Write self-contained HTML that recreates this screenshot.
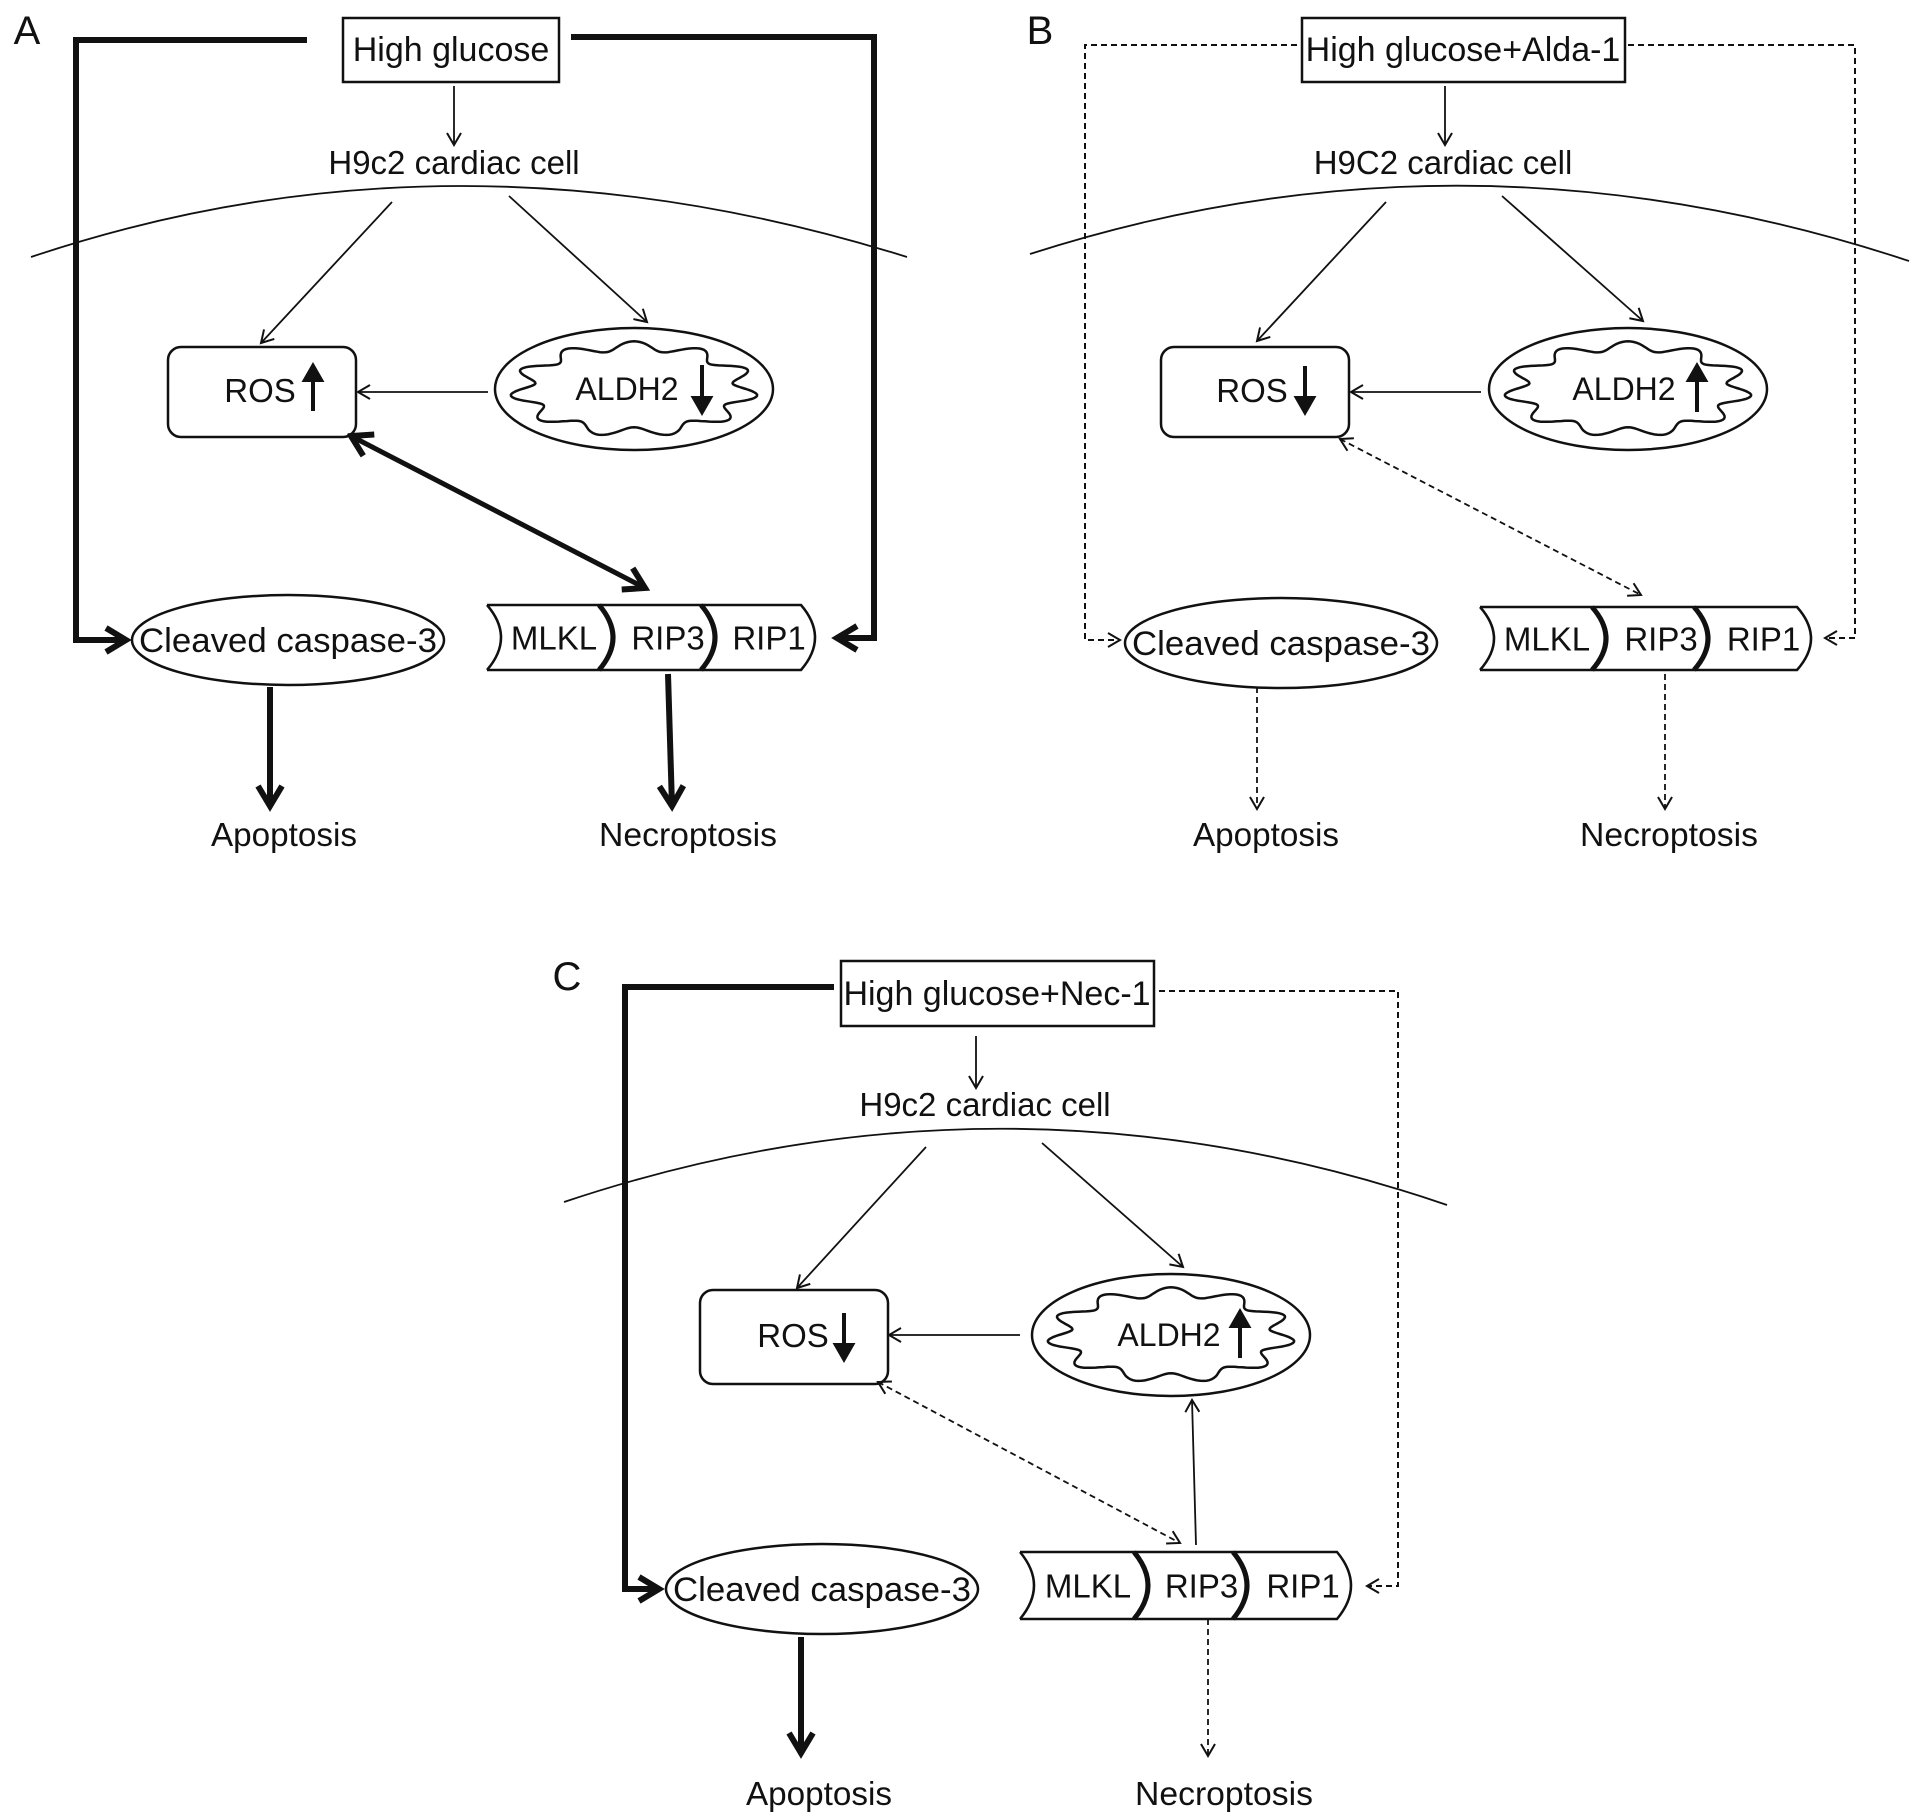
<!DOCTYPE html>
<html><head><meta charset="utf-8"><style>
html,body{margin:0;padding:0;background:#fff}
svg{display:block}
text{font-family:"Liberation Sans",Arial,sans-serif;fill:#111}
</style></head><body>
<svg id="s" width="1913" height="1815" viewBox="0 0 1913 1815" xmlns="http://www.w3.org/2000/svg">
<defs>
<marker id="t" markerUnits="userSpaceOnUse" markerWidth="20" markerHeight="20" refX="14" refY="8" orient="auto"><path d="M2,1 L14,8 L2,15" fill="none" stroke="#111" stroke-width="2"/></marker>
<marker id="tr" markerUnits="userSpaceOnUse" markerWidth="20" markerHeight="20" refX="2" refY="8" orient="auto"><path d="M14,1 L2,8 L14,15" fill="none" stroke="#111" stroke-width="2"/></marker>
<marker id="k" markerUnits="userSpaceOnUse" markerWidth="40" markerHeight="40" refX="26" refY="16" orient="auto"><path d="M6,4 L26,16 L6,28" fill="none" stroke="#111" stroke-width="6"/></marker>
<marker id="kr" markerUnits="userSpaceOnUse" markerWidth="40" markerHeight="40" refX="4" refY="16" orient="auto"><path d="M24,4 L4,16 L24,28" fill="none" stroke="#111" stroke-width="6"/></marker>
</defs>
<g fill="none" stroke="#111">
<!-- Panel A -->
<rect x="343" y="18" width="216" height="64" stroke-width="2.5"/>
<polyline points="307,40 76,40 76,640 126,640" stroke-width="6" marker-end="url(#k)"/>
<polyline points="571,37 874,37 874,638 837,638" stroke-width="6" marker-end="url(#k)"/>
<line x1="454" y1="86" x2="454" y2="145" stroke-width="1.8" marker-end="url(#t)"/>
<path d="M31,257 Q454,115 907,257" stroke-width="1.8"/>
<line x1="392" y1="202" x2="261" y2="343" stroke-width="1.8" marker-end="url(#t)"/>
<line x1="509" y1="196" x2="647" y2="322" stroke-width="1.8" marker-end="url(#t)"/>
<rect x="168" y="347" width="188" height="90" rx="13" stroke-width="2.5"/>
<ellipse cx="634" cy="389" rx="139" ry="61" stroke-width="2.5"/>
<line x1="488" y1="392" x2="358" y2="392" stroke-width="1.8" marker-end="url(#t)"/>
<line x1="351" y1="436" x2="645" y2="588" stroke-width="5" marker-start="url(#kr)" marker-end="url(#k)"/>
<ellipse cx="288" cy="640" rx="156" ry="45" stroke-width="2.5"/>
<line x1="270" y1="687" x2="270" y2="806" stroke-width="6" marker-end="url(#k)"/>
<line x1="668" y1="674" x2="672" y2="806" stroke-width="6" marker-end="url(#k)"/>
<!-- Panel B -->
<rect x="1302" y="18" width="323" height="64" stroke-width="2.5"/>
<polyline points="1297,45 1085,45 1085,640 1120,640" stroke-width="2" stroke-dasharray="6,4" marker-end="url(#t)"/>
<polyline points="1628,45 1855,45 1855,638 1825,638" stroke-width="2" stroke-dasharray="6,4" marker-end="url(#t)"/>
<line x1="1445" y1="86" x2="1445" y2="145" stroke-width="1.8" marker-end="url(#t)"/>
<path d="M1030,254 Q1465,114 1909,261" stroke-width="1.8"/>
<line x1="1386" y1="202" x2="1257" y2="341" stroke-width="1.8" marker-end="url(#t)"/>
<line x1="1502" y1="196" x2="1643" y2="321" stroke-width="1.8" marker-end="url(#t)"/>
<rect x="1161" y="347" width="188" height="90" rx="13" stroke-width="2.5"/>
<ellipse cx="1628" cy="389" rx="139" ry="61" stroke-width="2.5"/>
<line x1="1481" y1="392" x2="1351" y2="392" stroke-width="1.8" marker-end="url(#t)"/>
<line x1="1340" y1="439" x2="1641" y2="595" stroke-width="1.8" stroke-dasharray="6,4" marker-start="url(#tr)" marker-end="url(#t)"/>
<ellipse cx="1281" cy="643" rx="156" ry="45" stroke-width="2.5"/>
<line x1="1257" y1="687" x2="1257" y2="809" stroke-width="1.8" stroke-dasharray="6,4" marker-end="url(#t)"/>
<line x1="1665" y1="674" x2="1665" y2="809" stroke-width="1.8" stroke-dasharray="6,4" marker-end="url(#t)"/>
<!-- Panel C -->
<rect x="841" y="961" width="313" height="65" stroke-width="2.5"/>
<polyline points="834,987 625,987 625,1589 659,1589" stroke-width="6" marker-end="url(#k)"/>
<polyline points="1159,991 1398,991 1398,1586 1367,1586" stroke-width="2" stroke-dasharray="6,4" marker-end="url(#t)"/>
<line x1="976" y1="1036" x2="976" y2="1088" stroke-width="1.8" marker-end="url(#t)"/>
<path d="M564,1202 Q1006,1054 1447,1205" stroke-width="1.8"/>
<line x1="926" y1="1147" x2="797" y2="1288" stroke-width="1.8" marker-end="url(#t)"/>
<line x1="1042" y1="1143" x2="1183" y2="1267" stroke-width="1.8" marker-end="url(#t)"/>
<rect x="700" y="1290" width="188" height="94" rx="13" stroke-width="2.5"/>
<ellipse cx="1171" cy="1335" rx="139" ry="61" stroke-width="2.5"/>
<line x1="1020" y1="1335" x2="889" y2="1335" stroke-width="1.8" marker-end="url(#t)"/>
<line x1="878" y1="1382" x2="1180" y2="1543" stroke-width="1.8" stroke-dasharray="6,4" marker-start="url(#tr)" marker-end="url(#t)"/>
<line x1="1196" y1="1545" x2="1192" y2="1400" stroke-width="1.8" marker-end="url(#t)"/>
<ellipse cx="822" cy="1589" rx="156" ry="45" stroke-width="2.5"/>
<line x1="801" y1="1637" x2="801" y2="1753" stroke-width="6" marker-end="url(#k)"/>
<line x1="1208" y1="1619" x2="1208" y2="1756" stroke-width="1.8" stroke-dasharray="6,4" marker-end="url(#t)"/>
<g stroke-width="4">
<line x1="313" y1="411" x2="313" y2="376"/><path d="M305,380 L313,366 L321,380Z" fill="#111"/>
<line x1="702" y1="365" x2="702" y2="402"/><path d="M694,398 L702,412 L710,398Z" fill="#111"/>
<line x1="1305" y1="366" x2="1305" y2="401"/><path d="M1297,398 L1305,412 L1313,398Z" fill="#111"/>
<line x1="1697" y1="412" x2="1697" y2="377"/><path d="M1689,380 L1697,366 L1705,380Z" fill="#111"/>
<line x1="844" y1="1313" x2="844" y2="1348"/><path d="M836,1345 L844,1359 L852,1345Z" fill="#111"/>
<line x1="1240" y1="1358" x2="1240" y2="1323"/><path d="M1232,1326 L1240,1312 L1248,1326Z" fill="#111"/>
</g>
<g id="waves" stroke-width="2.5"></g>
<g id="cyls"></g>
</g>
<g font-size="34">
<text x="27" y="44" font-size="40" text-anchor="middle">A</text>
<text x="1040" y="44" font-size="40" text-anchor="middle">B</text>
<text x="567" y="990" font-size="40" text-anchor="middle">C</text>
<text x="451" y="61" text-anchor="middle">High glucose</text>
<text x="1463" y="61" text-anchor="middle">High glucose+Alda-1</text>
<text x="997" y="1005" text-anchor="middle">High glucose+Nec-1</text>
<text x="454" y="174" font-size="33" text-anchor="middle">H9c2 cardiac cell</text>
<text x="1443" y="174" font-size="33" text-anchor="middle">H9C2 cardiac cell</text>
<text x="985" y="1116" font-size="33" text-anchor="middle">H9c2 cardiac cell</text>
<text x="260" y="402" font-size="33" text-anchor="middle">ROS</text>
<text x="1252" y="402" font-size="33" text-anchor="middle">ROS</text>
<text x="793" y="1347" font-size="33" text-anchor="middle">ROS</text>
<text x="627" y="400" font-size="32" text-anchor="middle">ALDH2</text>
<text x="1624" y="400" font-size="32" text-anchor="middle">ALDH2</text>
<text x="1169" y="1346" font-size="32" text-anchor="middle">ALDH2</text>
<text x="288" y="652" font-size="34" text-anchor="middle" textLength="298" lengthAdjust="spacingAndGlyphs">Cleaved caspase-3</text>
<text x="1281" y="655" font-size="34" text-anchor="middle" textLength="298" lengthAdjust="spacingAndGlyphs">Cleaved caspase-3</text>
<text x="822" y="1601" font-size="34" text-anchor="middle" textLength="298" lengthAdjust="spacingAndGlyphs">Cleaved caspase-3</text>
<text x="284" y="846" font-size="33" text-anchor="middle" textLength="146" lengthAdjust="spacingAndGlyphs">Apoptosis</text>
<text x="688" y="846" font-size="33" text-anchor="middle" textLength="178" lengthAdjust="spacingAndGlyphs">Necroptosis</text>
<text x="1266" y="846" font-size="33" text-anchor="middle" textLength="146" lengthAdjust="spacingAndGlyphs">Apoptosis</text>
<text x="1669" y="846" font-size="33" text-anchor="middle" textLength="178" lengthAdjust="spacingAndGlyphs">Necroptosis</text>
<text x="819" y="1805" font-size="33" text-anchor="middle" textLength="146" lengthAdjust="spacingAndGlyphs">Apoptosis</text>
<text x="1224" y="1805" font-size="33" text-anchor="middle" textLength="178" lengthAdjust="spacingAndGlyphs">Necroptosis</text>
<g id="cyltext"></g>
</g>
</svg>
<script>
var NS="http://www.w3.org/2000/svg";
function wave(cx,cy){
  var d="",n=260,rx=112,ry=43,k=11;
  for(var i=0;i<=n;i++){var a=i/n*2*Math.PI;var r=1+0.11*Math.sin(k*a);
    var x=cx+rx*r*Math.cos(a),y=cy+ry*r*Math.sin(a);d+=(i?"L":"M")+x.toFixed(1)+","+y.toFixed(1);}
  var p=document.createElementNS(NS,"path");p.setAttribute("d",d+"Z");document.getElementById("waves").appendChild(p);
}
wave(634,389);wave(1628,389);wave(1171,1335);
function cyl(xs,y0,y1){
  var g=document.getElementById("cyls"),ym=(y0+y1)/2,h=14;
  function P(d,w){var p=document.createElementNS(NS,"path");p.setAttribute("d",d);p.setAttribute("stroke-width",w);g.appendChild(p);}
  P("M"+xs[0]+","+y0+" L"+(xs[3]-h)+","+y0+" Q"+(xs[3]+h)+","+ym+" "+(xs[3]-h)+","+y1+" L"+xs[0]+","+y1,2.5);
  P("M"+xs[0]+","+y0+" Q"+(xs[0]+2*h)+","+ym+" "+xs[0]+","+y1,2.5);
  P("M"+(xs[1]-h)+","+y0+" Q"+(xs[1]+h)+","+ym+" "+(xs[1]-h)+","+y1,5);
  P("M"+(xs[2]-h)+","+y0+" Q"+(xs[2]+h)+","+ym+" "+(xs[2]-h)+","+y1,5);
  var t=document.getElementById("cyltext"),L=["MLKL","RIP3","RIP1"];
  for(var i=0;i<3;i++){var e=document.createElementNS(NS,"text");e.setAttribute("x",(xs[i]+xs[i+1])/2+4);e.setAttribute("y",ym+12);e.setAttribute("text-anchor","middle");e.setAttribute("font-size","33");e.textContent=L[i];t.appendChild(e);}
}
cyl([487,613,715,815],605,670);
cyl([1480,1606,1708,1811],607,670);
cyl([1020,1148,1247,1351],1552,1619);
</script>
</body></html>
